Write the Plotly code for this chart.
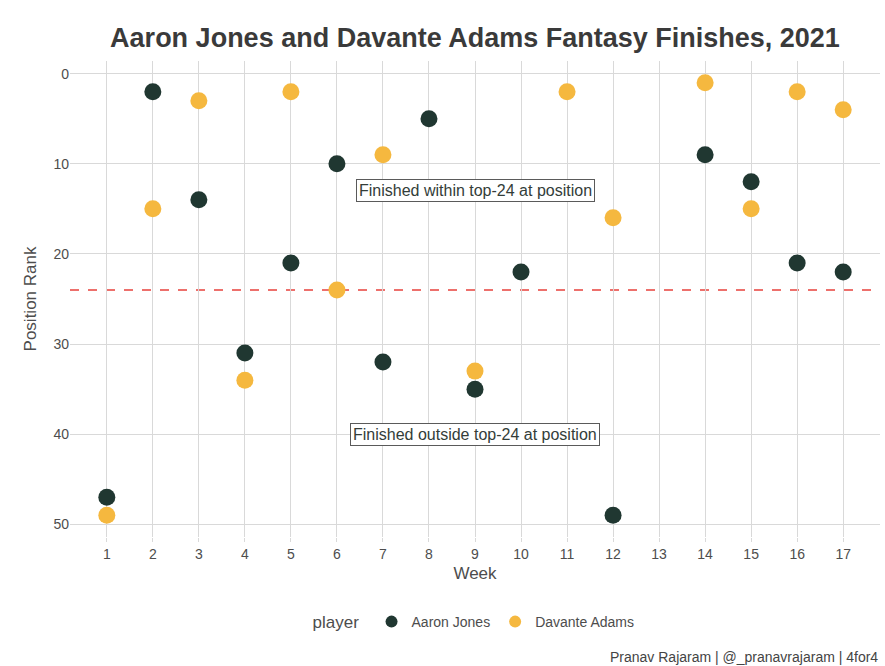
import plotly.graph_objects as go

weeks_jones = [1, 2, 3, 4, 5, 6, 7, 8, 9, 10, 12, 14, 15, 16, 17]
rank_jones = [47, 2, 14, 31, 21, 10, 32, 5, 35, 22, 49, 9, 12, 21, 22]

weeks_adams = [1, 2, 3, 4, 5, 6, 7, 9, 11, 12, 14, 15, 16, 17]
rank_adams = [49, 15, 3, 34, 2, 24, 9, 33, 2, 16, 1, 15, 2, 4]

cutoff = 24
week_ticks = list(range(1, 18))
rank_ticks = [0, 10, 20, 30, 40, 50]

GREEN = "#203731"
GOLD = "#F5B83F"
FONT = "Liberation Sans, Arial, sans-serif"

fig = go.Figure()
fig.add_trace(go.Scatter(x=weeks_jones, y=rank_jones, mode="markers", name="Aaron Jones",
                         marker=dict(color=GREEN, size=17, line=dict(width=0))))
fig.add_trace(go.Scatter(x=weeks_adams, y=rank_adams, mode="markers", name="Davante Adams",
                         marker=dict(color=GOLD, size=17, line=dict(width=0))))

fig.add_shape(type="line", xref="paper", x0=0, x1=1, yref="y", y0=cutoff, y1=cutoff,
              line=dict(color="#E8413C", width=1.5, dash="dash"), layer="below")

for txt, yv in [("Finished within top-24 at position", 13), ("Finished outside top-24 at position", 40)]:
    fig.add_annotation(x=9, y=yv, text=txt, showarrow=False,
                       font=dict(family=FONT, size=16, color="#333d39"),
                       bgcolor="white", bordercolor="#5a5a5a", borderwidth=1, borderpad=2)

fig.add_annotation(xref="paper", yref="paper", x=1, y=-0.232, xanchor="right", yanchor="top",
                   text="Pranav Rajaram | @_pranavrajaram | 4for4", showarrow=False,
                   font=dict(family=FONT, size=14, color="#444444"))

fig.update_layout(
    width=885, height=666,
    paper_bgcolor="white", plot_bgcolor="white",
    margin=dict(l=70, r=5, t=61, b=129),
    font=dict(family=FONT, color="#4d4d4d"),
    title=dict(text="<b>Aaron Jones and Davante Adams Fantasy Finishes, 2021</b>",
               x=0.5, xref="paper", xanchor="center", y=0.943, yanchor="middle",
               font=dict(family=FONT, size=27, color="#3a3a3a")),
    xaxis=dict(title=dict(text="Week", font=dict(size=17, color="#4d4d4d"), standoff=6),
               tickvals=week_ticks, range=[0.2, 17.8], showgrid=True,
               gridcolor="#d9d9d9", gridwidth=1.3, zeroline=False, showline=False,
               ticks="outside", ticklen=4, tickcolor="#d9d9d9",
               tickfont=dict(size=14, color="#4d4d4d")),
    yaxis=dict(title=dict(text="Position Rank", font=dict(size=17, color="#4d4d4d"), standoff=12),
               tickvals=rank_ticks, range=[51.4, -1.4], showgrid=True,
               gridcolor="#d9d9d9", gridwidth=1.3, zeroline=False, showline=False,
               tickfont=dict(size=14, color="#4d4d4d")),
    legend=dict(orientation="h", x=0.5, xanchor="center", y=-0.145, yanchor="top",
                title=dict(text="player ", font=dict(size=17, color="#4d4d4d")),
                font=dict(size=14, color="#4d4d4d"), itemsizing="constant"),
)

fig.write_html("out.html")
